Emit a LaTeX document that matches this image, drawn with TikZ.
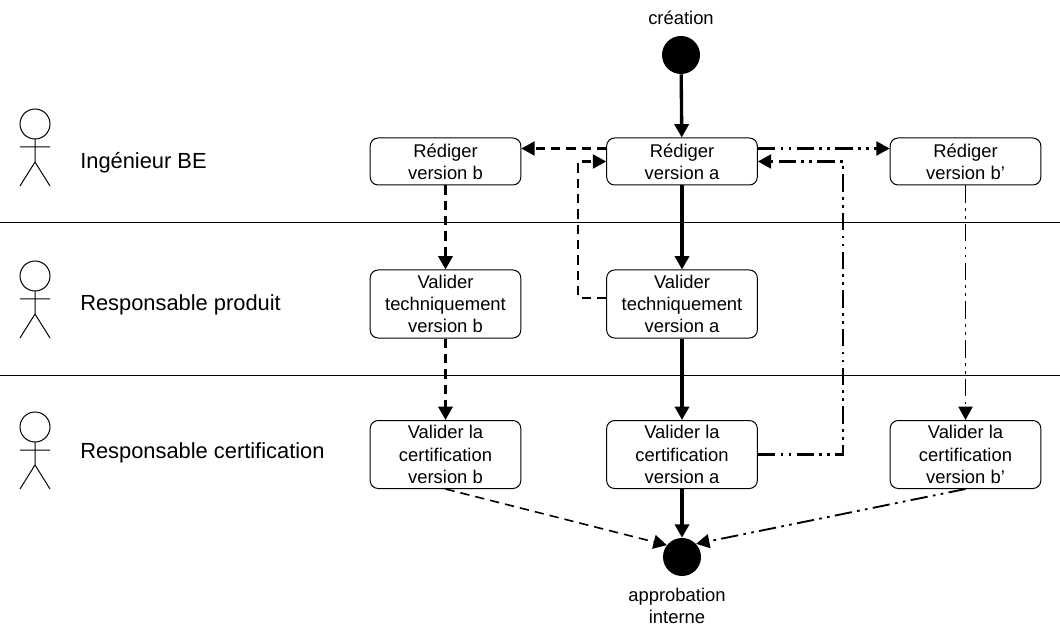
\documentclass[tikz,border=0pt]{standalone}
\usepackage{fontspec}
\setmainfont{Liberation Sans}
\usetikzlibrary{arrows.meta}
\tikzset{
  x=0.75pt,y=-0.75pt,
  box/.style={draw,rounded corners=6pt,line width=0.75pt,minimum width=113pt,inner sep=0pt,align=center,font=\fontsize{13.8}{16.7}\selectfont},
  boxs/.style={box,minimum height=35.25pt},
  boxl/.style={box,minimum height=51pt},
  disc/.style={circle,fill=black,minimum size=28.5pt,inner sep=0pt},
  lab/.style={align=center,inner sep=0pt,font=\fontsize{13.8}{17}\selectfont},
  role/.style={anchor=west,inner sep=0pt,font=\fontsize{16.4}{19}\selectfont},
  tip/.style={-{Triangle[length=10pt,width=10.5pt]}},
  solidc/.style={tip,line width=2.5pt},
  dashthin/.style={tip,line width=1.7pt,dash pattern=on 7pt off 4.5pt},
  dashthick/.style={tip,line width=2.4pt,dash pattern=on 7pt off 4.5pt},
  dashfine/.style={tip,line width=1.2pt,dash pattern=on 7pt off 4.5pt},
  ddthin/.style={tip,line width=1.7pt,dash pattern=on 13pt off 4pt on 2pt off 4pt on 2pt off 4pt},
  ddfine/.style={tip,line width=1.4pt,dash pattern=on 13pt off 4pt on 2pt off 4pt on 2pt off 4pt},
  sep/.style={line width=0.75pt},
  actor/.style={line width=0.75pt}
}
\begin{document}
\begin{tikzpicture}
\useasboundingbox (0,0) rectangle (1060,627);
% separators
\coordinate (l1a) at (0,223); \coordinate (l1b) at (1060,223);
\coordinate (l2a) at (0,375); \coordinate (l2b) at (1060,375);
\draw[sep] (l1a) -- (l1b);
\draw[sep] (l2a) -- (l2b);
% actors
\foreach \dy in {0,152,303}{
  \begin{scope}[yshift={-0.75pt*\dy}]
    \draw[actor] (35,124) circle[radius=11.25pt];
    \draw[actor] (35,139) -- (35,162) (20,147) -- (50,147) (20,186) -- (35,162) -- (50,186);
  \end{scope}
}
\node[role] (r1) at (80,162.5) {Ingénieur BE};
\node[role] (r2) at (80,304.5) {Responsable produit};
\node[role] (r3) at (80,452.5) {Responsable certification};
% discs
\node[disc] (start) at (681,55) {};
\node[disc] (stop) at (682,557) {};
\node[lab] (tstart) at (681,18) {création};
\node[lab] (tstop) at (677,606) {approbation\\interne};
% boxes
\node[boxs] (ra) at (682,161.5) {Rédiger\\version a};
\node[boxs] (rb) at (445.5,161.5) {Rédiger\\version b};
\node[boxs] (rc) at (965.5,161.5) {Rédiger\\version b'};
\node[boxl] (ta) at (682,304) {Valider\\techniquement\\version a};
\node[boxl] (tb) at (445.5,304) {Valider\\techniquement\\version b};
\node[boxl] (ca) at (682,454.5) {Valider la\\certification\\version a};
\node[boxl] (cb) at (445.5,454.5) {Valider la\\certification\\version b};
\node[boxl] (cc) at (965.5,454.5) {Valider la\\certification\\version b'};
% corners
\coordinate (k1) at (578,298);
\coordinate (k2) at (578,161.5);
\coordinate (k3) at (843,454.5);
\coordinate (k4) at (843,161.5);
% connectors
\draw[solidc] (start) -- (ra);
\draw[solidc] (ra) -- (ta);
\draw[solidc] (ta) -- (ca);
\draw[solidc] (ca) -- (stop);
\draw[dashthin] ([yshift=9.75pt]ra.west) -- ([yshift=9.75pt]rb.east);
\draw[dashthick] (rb) -- (tb);
\draw[dashthick] (tb) -- (cb);
\draw[dashfine] (cb.south) -- (stop.142);
\draw[dashthin] ([yshift=4.5pt]ta.west) -- (k1) -- (k2) -- (ra.west);
\draw[ddthin] ([yshift=9.75pt]ra.east) -- ([yshift=9.75pt]rc.west);
\draw[ddthin] (ca.east) -- (k3) -- (k4) -- (ra.east);
\draw[ddfine] (rc) -- (cc);
\draw[ddfine] (cc.south) -- (stop.43);
\end{tikzpicture}
\end{document}
